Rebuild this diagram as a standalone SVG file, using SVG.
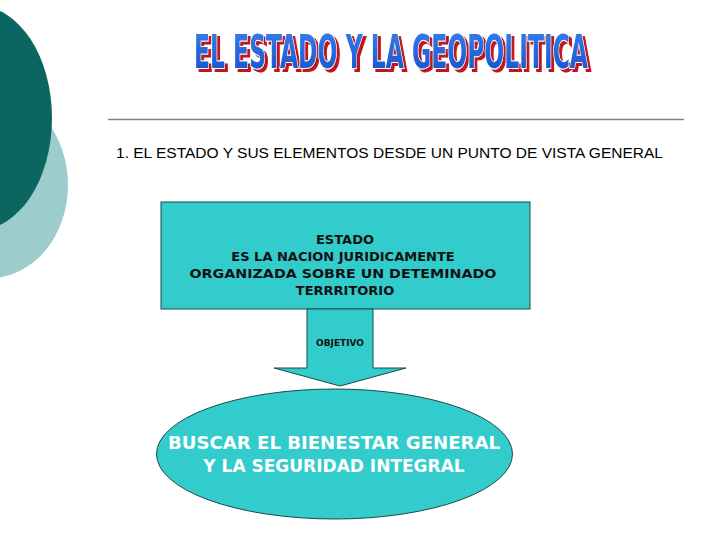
<svg xmlns="http://www.w3.org/2000/svg" width="720" height="540" viewBox="0 0 720 540">
<defs>
<style>
.title{font-family:"DejaVu Sans Condensed","DejaVu Sans",sans-serif;font-weight:bold;font-size:26px}
.sub{font-family:"Liberation Sans",Arial,sans-serif;font-size:14px;fill:#000}
.box{font-family:"DejaVu Sans",Verdana,sans-serif;font-weight:bold;font-size:13px;fill:#111;text-anchor:middle}
.ell{font-family:"DejaVu Sans",Verdana,sans-serif;font-weight:bold;font-size:17px;fill:#fff;text-anchor:middle}
.shape{fill:#33cccc;stroke:#1a4a4a;stroke-width:1}
</style>
<linearGradient id="tg" x1="0" y1="0" x2="0" y2="1">
<stop offset="0" stop-color="#3a7ff0"/>
<stop offset="1" stop-color="#1450c8"/>
</linearGradient>
<filter id="shadow" x="-10%" y="-40%" width="120%" height="180%">
<feFlood flood-color="#c0181c" result="red"/>
<feComposite in="red" in2="SourceAlpha" operator="in" result="redText"/>
<feOffset in="redText" dx="3" dy="1.7" result="off"/>
<feMerge><feMergeNode in="off"/><feMergeNode in="SourceGraphic"/></feMerge>
</filter>
</defs>
<rect width="720" height="540" fill="#fff"/>
<g id="decor">
<ellipse cx="-10" cy="185" rx="78" ry="93" fill="#9dcccc"/>
<ellipse cx="-22" cy="118" rx="74" ry="112" fill="#0b6560"/>
<line x1="108" y1="119.5" x2="684" y2="119.5" stroke="#808080" stroke-width="1.5"/>
</g>
<g id="title">
<text class="title" transform="translate(194,68) scale(1,1.77)" x="0" y="0" textLength="394" lengthAdjust="spacingAndGlyphs" fill="url(#tg)" stroke="#fff" stroke-width="1" paint-order="stroke" filter="url(#shadow)">EL ESTADO Y LA GEOPOLITICA</text>
</g>
<g id="subtitle">
<text class="sub" x="116" y="158" textLength="547" lengthAdjust="spacingAndGlyphs">1. EL ESTADO Y SUS ELEMENTOS DESDE UN PUNTO DE VISTA GENERAL</text>
</g>
<g id="estado">
<rect class="shape" x="161" y="202" width="369" height="107"/>
<text class="box" x="345" y="244">ESTADO</text>
<text class="box" x="343" y="261">ES LA NACION JURIDICAMENTE</text>
<text class="box" x="343" y="278" textLength="307" lengthAdjust="spacingAndGlyphs">ORGANIZADA SOBRE UN DETEMINADO</text>
<text class="box" x="345" y="295">TERRRITORIO</text>
</g>
<g id="connectors">
<path class="shape" d="M307,309 L373,309 L373,368 L406,368 L340,386 L274,368 L307,368 Z"/>
<text x="340" y="346" font-family="DejaVu Sans,Verdana,sans-serif" font-weight="bold" font-size="9" fill="#111" text-anchor="middle">OBJETIVO</text>
</g>
<g id="objetivo">
<ellipse class="shape" cx="334.5" cy="454" rx="178" ry="65"/>
<text class="ell" x="334" y="449" textLength="332" lengthAdjust="spacingAndGlyphs">BUSCAR EL BIENESTAR GENERAL</text>
<text class="ell" x="334" y="472">Y LA SEGURIDAD INTEGRAL</text>
</g>
</svg>
